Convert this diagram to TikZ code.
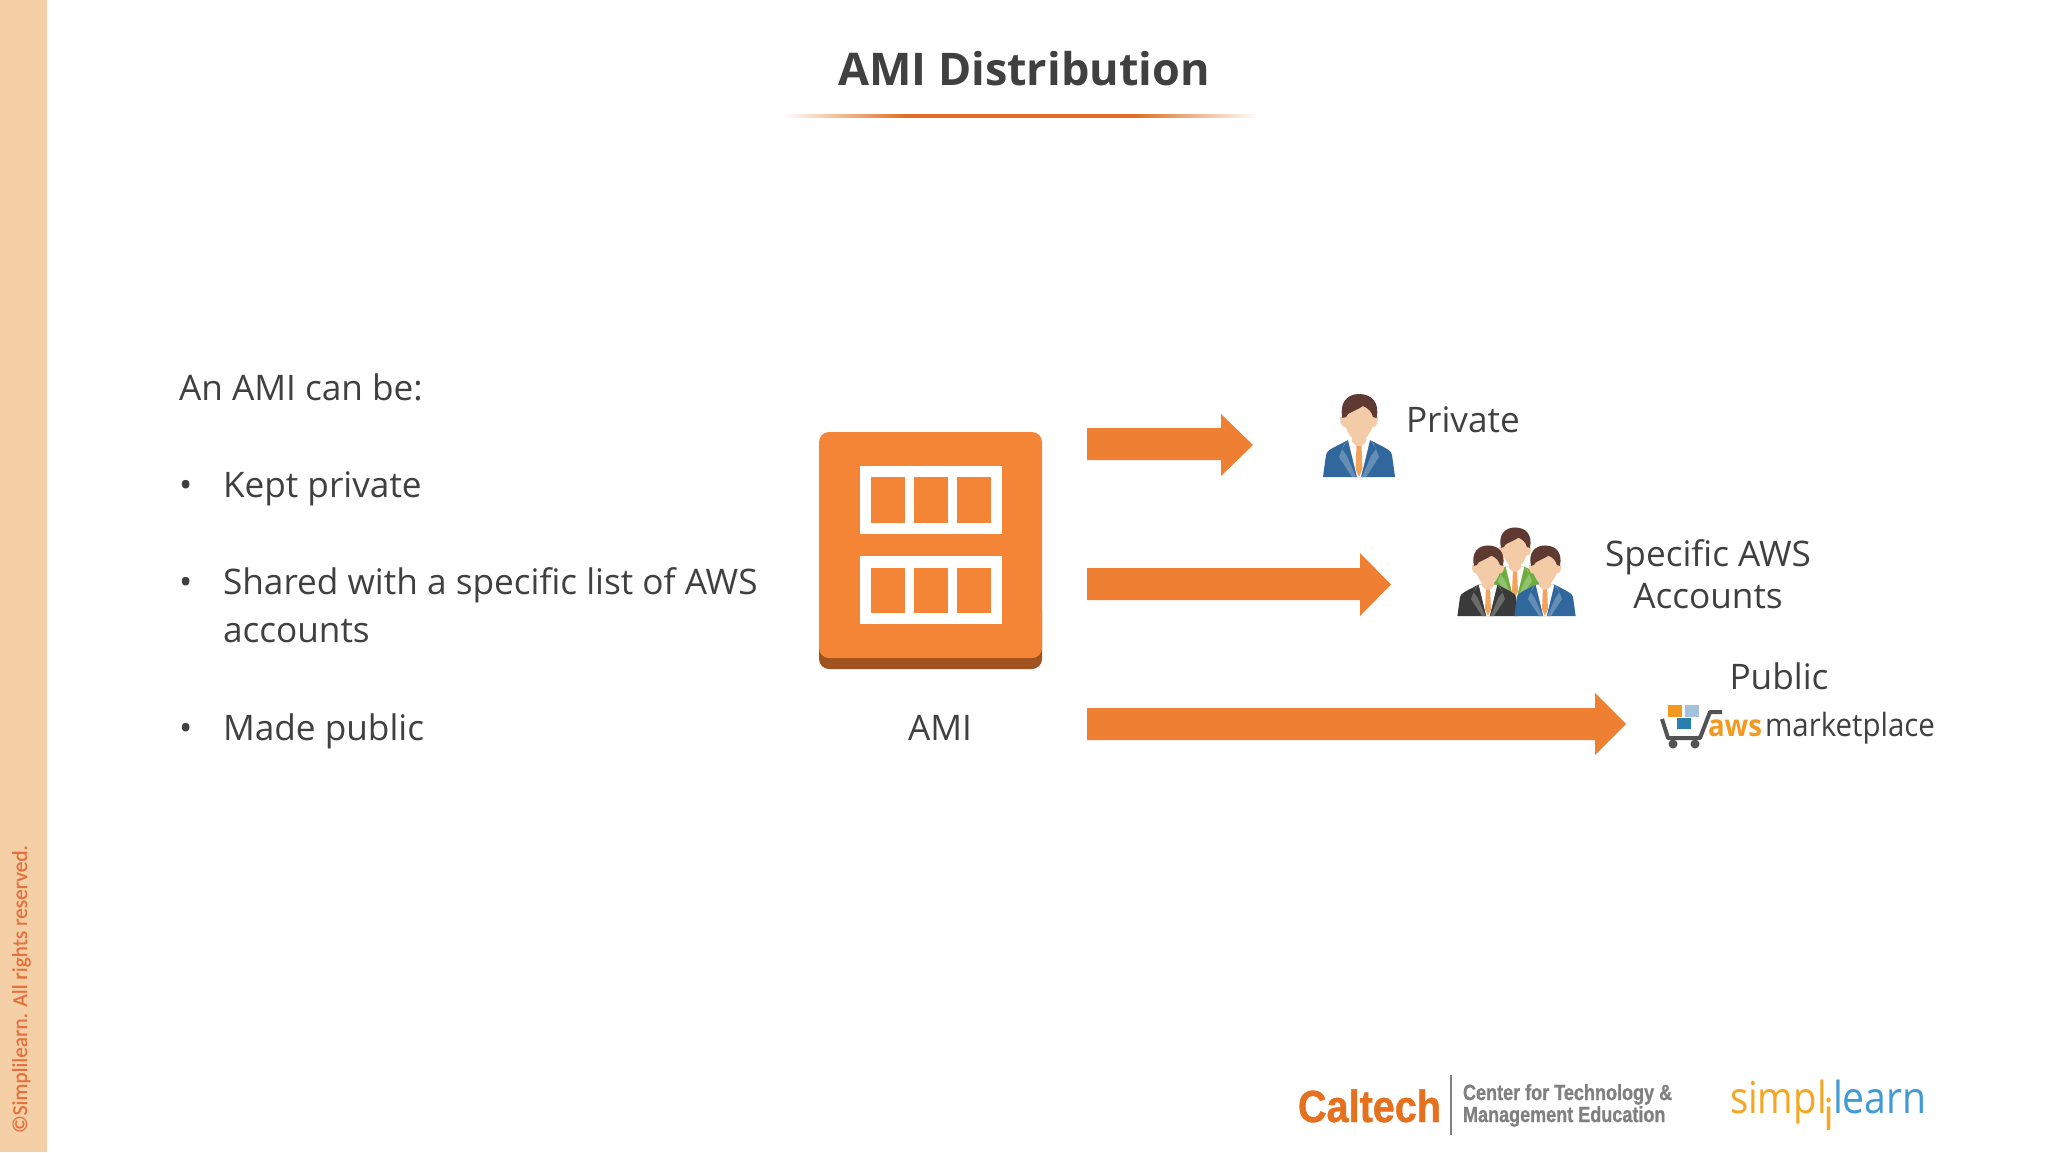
\documentclass[tikz,border=0pt]{standalone}
\usepackage{fontspec}
\usepackage{graphicx}
\setmainfont{Open Sans}
\newfontfamily\lib{Liberation Sans}[BoldFeatures={FakeBold=1}]
\newfontfamily\carl{Carlito}[FakeBold=0.5]
\definecolor{ink}{HTML}{404040}
\definecolor{band}{HTML}{F5D0A6}
\definecolor{arrowor}{HTML}{EF7F33}
\definecolor{iconor}{HTML}{F58536}
\definecolor{icondk}{HTML}{A0521F}
\definecolor{ruleor}{HTML}{E06F22}
\definecolor{skin}{HTML}{F3CBA6}
\definecolor{hair}{HTML}{5E3A32}
\definecolor{suitb}{HTML}{30689E}
\definecolor{suitbl}{HTML}{5A8FBF}
\definecolor{suitg}{HTML}{6DAE3F}
\definecolor{suitk}{HTML}{3A3A3A}
\definecolor{tieor}{HTML}{F2A35E}
\definecolor{calor}{HTML}{E5701E}
\definecolor{calgr}{HTML}{808080}
\definecolor{simy}{HTML}{F5A623}
\definecolor{simb}{HTML}{3F9AD6}
\definecolor{awsor}{HTML}{F29A1F}
\definecolor{copyor}{HTML}{E5703C}
\pgfdeclarehorizontalshading{rulefade}{100bp}{color(0bp)=(white); color(25bp)=(white); color(38bp)=(ruleor); color(62bp)=(ruleor); color(75bp)=(white); color(100bp)=(white)}
\tikzset{
  txt/.style={inner sep=0pt,outer sep=0pt,anchor=base west,text=ink,font=\fontsize{35.2}{35.2}\selectfont},
  ctxt/.style={txt,anchor=base},
  blockarrow/.style={fill=arrowor,draw=none},
  win/.style={fill=white,draw=none},
  pane/.style={fill=iconor,draw=none},
  simptxt/.style={txt,font=\fontsize{44}{44}\selectfont},
}
\newcommand{\personicon}[4]{%
\begin{scope}[shift={(#1,#2)},x=#3pt,y=#3pt]
  \fill[#4] (-36,0) -- (-33,22) .. controls (-32,27) and (-28,28) .. (-11,37) -- (11,37) .. controls (28,28) and (32,27) .. (33,22) -- (36,0) -- cycle;
  \fill[white] (-11,37) -- (11,37) -- (2,0) -- (-2,0) -- cycle;
  \fill[skin] (-7,44) -- (7,44) -- (7,35) -- (0,29) -- (-7,35) -- cycle;
  \fill[tieor] (-2.5,31) -- (2.5,31) -- (3.5,8) -- (0,0) -- (-3.5,8) -- cycle;
  \fill[#4!75!white] (-11,37) -- (-17,28) -- (-12,21) -- (-3,0) -- (-7,0) -- (-20,20) -- (-15,33) -- cycle;
  \fill[#4!75!white] (11,37) -- (17,28) -- (12,21) -- (3,0) -- (7,0) -- (20,20) -- (15,33) -- cycle;
  \fill[skin] (-19,60) .. controls (-19,53) and (-17,50) .. (-14,50) -- (14,50) .. controls (17,50) and (19,53) .. (19,60) -- cycle;
  \fill[skin] (-16,64) .. controls (-16,50) and (-8,36) .. (0,35) .. controls (8,36) and (16,50) .. (16,64) .. controls (16,78) and (-16,78) .. (-16,64) -- cycle;
  \fill[hair] (-16.5,59) .. controls (-20,74) and (-12,83) .. (0,83) .. controls (13,83) and (21,74) .. (17.5,59) -- (14,60) .. controls (13,65) and (9,69) .. (4,71) .. controls (0,68) and (-6,66) .. (-11,63) -- (-13,60) -- cycle;
\end{scope}}
\begin{document}
\begin{tikzpicture}[x=1pt,y=-1pt]
\useasboundingbox (0,0) rectangle (2048,1152);
\fill[white] (0,0) rectangle (2048,1152);
\fill[band] (0,0) rectangle (47,1152);
\node[txt,rotate=90,text=copyor,font=\carl\fontsize{21.3}{21.3}\selectfont] (copy) at (27,1133) {©Simplilearn. All rights reserved.};
% title
\node[ctxt,font=\bfseries\fontsize{45}{45}\selectfont] (title) at (1024,85) {AMI Distribution};
\shade[shading=rulefade] (782,114.5) rectangle (1258,117.5);
% left text
\node[txt] (intro) at (179,400) {An AMI can be:};
\node[txt] (b1) at (179,497) {•};
\node[txt] (l1) at (223,497) {Kept private};
\node[txt] (b2) at (179,594) {•};
\node[txt] (l2) at (223,594) {Shared with a specific list of AWS};
\node[txt] (l2b) at (223,642) {accounts};
\node[txt] (b3) at (179,740) {•};
\node[txt] (l3) at (223,740) {Made public};
% AMI icon
\fill[icondk,rounded corners=10pt] (819,600) rectangle (1042,669);
\fill[iconor,rounded corners=10pt] (819,432) rectangle (1042,658);
\fill[win] (860,466) rectangle (1002,534);
\fill[win] (860,556) rectangle (1002,624);
\fill[pane] (871,477) rectangle (905,523);
\fill[pane] (914,477) rectangle (948,523);
\fill[pane] (957,477) rectangle (991,523);
\fill[pane] (871,568) rectangle (905,613);
\fill[pane] (914,568) rectangle (948,613);
\fill[pane] (957,568) rectangle (991,613);
\node[ctxt] (ami) at (940,740) {AMI};
% arrows
\fill[blockarrow] (1087,428) -- (1221,428) -- (1221,414) -- (1253,445) -- (1221,476) -- (1221,460) -- (1087,460) -- cycle;
\fill[blockarrow] (1087,568) -- (1360,568) -- (1360,553) -- (1391,584.5) -- (1360,616) -- (1360,600) -- (1087,600) -- cycle;
\fill[blockarrow] (1087,708) -- (1595,708) -- (1595,693) -- (1626,724) -- (1595,755) -- (1595,740) -- (1087,740) -- cycle;
% people
\personicon{1359}{477}{1}{suitb}
\personicon{1515}{598}{0.85}{suitg}
\personicon{1488}{616}{0.85}{suitk}
\personicon{1545}{616}{0.85}{suitb}
\node[txt] (priv) at (1406,432) {Private};
\node[ctxt] (spec) at (1708,566) {Specific AWS};
\node[ctxt] (acc) at (1708,608) {Accounts};
\node[ctxt] (pub) at (1779,689) {Public};
% marketplace logo
\fill[awsor] (1668,705) rectangle (1682,717);
\fill[suitbl!55!white] (1685,705) rectangle (1699,717);
\fill[suitb!85!cyan] (1677,718) rectangle (1691,729);
\draw[line width=4pt,ink!90!white,line join=round] (1662,719) -- (1668,738) -- (1700,738) -- (1710,712) -- (1722,712);
\fill[ink!90!white] (1673,744) circle (4.5);
\fill[ink!90!white] (1695,744) circle (4.5);
\node[txt,font=\bfseries\fontsize{30}{30}\selectfont,text=awsor] (aws) at (1708,736) {\scalebox{0.92}[1]{aws}};
\node[txt,font=\fontsize{32}{32}\selectfont] (mkt) at (1765,736) {\scalebox{0.92}[1]{marketplace}};
% footer
\node[txt,font=\lib\bfseries\fontsize{45}{45}\selectfont,text=calor] (cal) at (1298,1122) {\scalebox{0.88}[1]{Caltech}};
\draw[calgr,line width=1.5pt] (1451,1075) -- (1451,1135);
\node[txt,font=\lib\bfseries\fontsize{22}{22}\selectfont,text=calgr] (c1) at (1463,1100) {\scalebox{0.82}[1]{Center for Technology \&}};
\node[txt,font=\lib\bfseries\fontsize{22}{22}\selectfont,text=calgr] (c2) at (1463,1122) {\scalebox{0.82}[1]{Management Education}};
\node[simptxt,text=simy] (s1) at (1730,1113) {\scalebox{0.87}[1]{simpl}};
\node[simptxt,text=simy] (s2) at (1825,1130) {\makebox[8pt][c]{i}};
\node[simptxt,text=simb] (s3) at (1833,1113) {\scalebox{0.89}[1]{learn}};
\end{tikzpicture}
\end{document}
